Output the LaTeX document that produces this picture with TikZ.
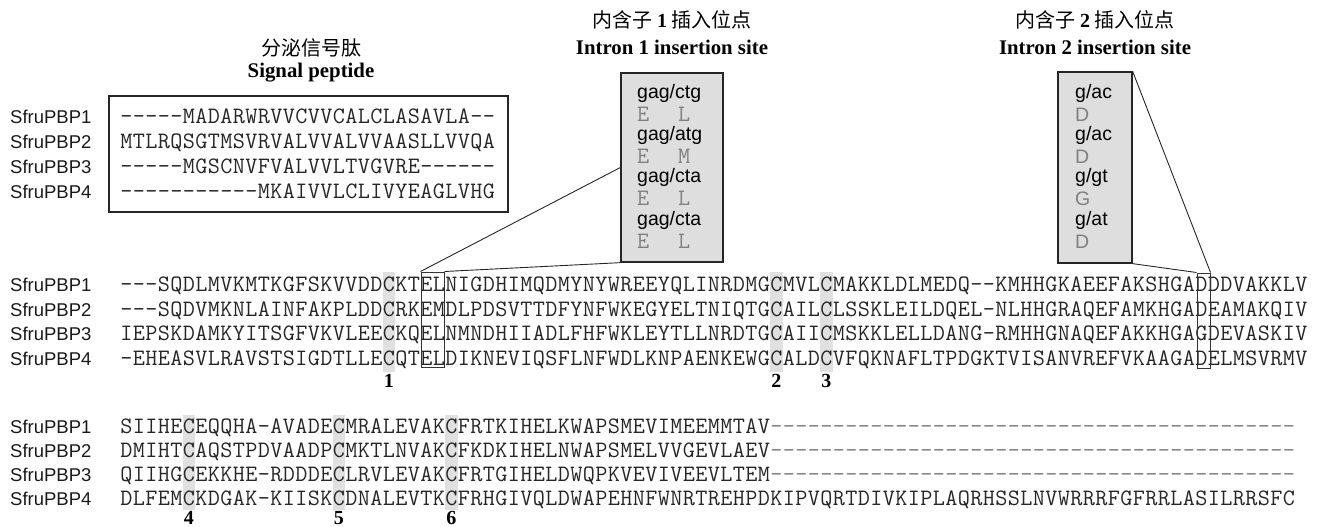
\documentclass[tikz,border=0pt]{standalone}
\usepackage{fontspec}
\setmainfont{Liberation Serif}
\newfontfamily\lsans{Liberation Sans}
\newfontfamily\cjk{Noto Sans CJK SC}
\newcommand\seqfont{\fontsize{23.5}{24}\selectfont\ttfamily}
\newcommand\labfont{\lsans\fontsize{18.5}{20}\selectfont}
\newcommand\itxtfont{\lsans\fontsize{19.5}{20}\selectfont}
\newcommand\ttlfont{\bfseries\fontsize{20.8}{22}\selectfont}
\newcommand\cttlfont{\cjk\fontsize{20}{22}\selectfont}
\newcommand\numfont{\bfseries\fontsize{20}{22}\selectfont}
\newcommand\seqgrid[1]{\seqaux#1\relax}
\def\seqaux#1{\ifx#1\relax\else\makebox[12.5pt]{#1}\expandafter\seqaux\fi}
\begin{document}
\begin{tikzpicture}[x=1pt,y=-1pt,
  seq/.style={inner sep=0pt, anchor=base west, font=\seqfont, text=black!85},
  dashrow/.style={seq, text=black!50},
  lab/.style={inner sep=0pt, anchor=base west, font=\labfont, text=black!90},
  ttl/.style={inner sep=0pt, font=\ttlfont},
  cttl/.style={inner sep=0pt, font=\cttlfont},
  num/.style={inner sep=0pt, font=\numfont},
  ibox/.style={draw=black!85, line width=1.3pt, fill=black!13, inner sep=0pt},
  sbox/.style={draw=black!80, line width=1pt, inner sep=0pt},
  sigbox/.style={draw=black!85, line width=1.2pt, inner sep=0pt},
  band/.style={fill=black!12, draw=none},
  itxt/.style={inner sep=0pt, anchor=base west, font=\itxtfont, text=black},
  igray/.style={inner sep=0pt, anchor=base west, font=\seqfont, text=black!50},
  isgray/.style={itxt, text=black!50},
  link/.style={draw=black!85, line width=0.9pt}]
\useasboundingbox (0,0) rectangle (1325,527);

% ---------- titles
\node[cttl] (tsigc) at (311,48) {分泌信号肽};
\node[ttl]  (tsige) at (311,73) {Signal peptide};
\node[cttl] (ti1c) at (672,20) {内含子 {\rmfamily\bfseries 1} 插入位点};
\node[ttl]  (ti1e) at (672,47) {Intron 1 insertion site};
\node[cttl] (ti2c) at (1095,20) {内含子 {\rmfamily\bfseries 2} 插入位点};
\node[ttl]  (ti2e) at (1095,47) {Intron 2 insertion site};

% ---------- highlight bands (cysteines)
\fill[band] (382.5,272) rectangle (395,372);
\fill[band] (770,272) rectangle (782.5,372);
\fill[band] (820,272) rectangle (832.5,372);
\fill[band] (182.5,415) rectangle (195,510);
\fill[band] (332.5,415) rectangle (345,510);
\fill[band] (445,415) rectangle (457.5,510);

% ---------- signal peptide box
\node[sigbox, minimum width=399pt, minimum height=116pt] (sig) at (308.5,154) {};
\node[lab] (l11) at (10,123.6) {SfruPBP1};
\node[lab] (l12) at (10,148.6) {SfruPBP2};
\node[lab] (l13) at (10,173.6) {SfruPBP3};
\node[lab] (l14) at (10,198.6) {SfruPBP4};
\node[seq] (s11) at (120,123.5) {\seqgrid{-----MADARWRVVCVVCALCLASAVLA--}};
\node[seq] (s12) at (120,148.5) {\seqgrid{MTLRQSGTMSVRVALVVALVVAASLLVVQA}};
\node[seq] (s13) at (120,173.5) {\seqgrid{-----MGSCNVFVALVVLTVGVRE------}};
\node[seq] (s14) at (120,198.5) {\seqgrid{-----------MKAIVVLCLIVYEAGLVHG}};

% ---------- intron 1 box
\node[ibox, minimum width=102pt, minimum height=189pt] (ib1) at (672,167.5) {};
\node[itxt] (a1) at (637,98) {gag/ctg};
\node[igray] (a1e) at (637,121.5) {E};
\node[igray] (a1l) at (678,121.5) {L};
\node[itxt] (a2) at (637,140) {gag/atg};
\node[igray] (a2e) at (637,163.5) {E};
\node[igray] (a2l) at (678,163.5) {M};
\node[itxt] (a3) at (637,182) {gag/cta};
\node[igray] (a3e) at (637,205.5) {E};
\node[igray] (a3l) at (678,205.5) {L};
\node[itxt] (a4) at (637,225) {gag/cta};
\node[igray] (a4e) at (637,248.5) {E};
\node[igray] (a4l) at (678,248.5) {L};

% ---------- intron 2 box
\node[ibox, minimum width=74pt, minimum height=191pt] (ib2) at (1095,167.5) {};
\node[itxt] (b1) at (1075,98) {g/ac};
\node[isgray] (b1d) at (1075,121.5) {D};
\node[itxt] (b2) at (1075,140) {g/ac};
\node[isgray] (b2d) at (1075,163.5) {D};
\node[itxt] (b3) at (1075,182) {g/gt};
\node[isgray] (b3d) at (1075,205.5) {G};
\node[itxt] (b4) at (1075,225) {g/at};
\node[isgray] (b4d) at (1075,248.5) {D};

% ---------- block 2
\node[lab] (l21) at (10,291.6) {SfruPBP1};
\node[lab] (l22) at (10,316.1) {SfruPBP2};
\node[lab] (l23) at (10,340.6) {SfruPBP3};
\node[lab] (l24) at (10,365.1) {SfruPBP4};
\node[seq] (s21) at (120,291.5) {\seqgrid{---SQDLMVKMTKGFSKVVDDCKTELNIGDHIMQDMYNYWREEYQLINRDMGCMVLCMAKKLDLMEDQ--KMHHGKAEEFAKSHGADDDVAKKLV}};
\node[seq] (s22) at (120,316) {\seqgrid{---SQDVMKNLAINFAKPLDDCRKEMDLPDSVTTDFYNFWKEGYELTNIQTGCAILCLSSKLEILDQEL-NLHHGRAQEFAMKHGADEAMAKQIV}};
\node[seq] (s23) at (120,340.5) {\seqgrid{IEPSKDAMKYITSGFVKVLEECKQELNMNDHIIADLFHFWKLEYTLLNRDTGCAIICMSKKLELLDANG-RMHHGNAQEFAKKHGAGDEVASKIV}};
\node[seq] (s24) at (120,365) {\seqgrid{-EHEASVLRAVSTSIGDTLLECQTELDIKNEVIQSFLNFWDLKNPAENKEWGCALDCVFQKNAFLTPDGKTVISANVREFVKAAGADELMSVRMV}};
\node[num] (n1) at (388.75,381) {1};
\node[num] (n2) at (776.25,381) {2};
\node[num] (n3) at (826.25,381) {3};

% small boxes in alignment
\node[sbox, minimum width=23pt, minimum height=95pt] (sb1) at (432.5,319.5) {};
\node[sbox, minimum width=13pt, minimum height=95pt] (sb2) at (1203.5,320.5) {};

% connectors
\draw[link] (sb1.north west) -- (ib1.west);
\draw[link] (sb1.north east) -- (ib1.south west);
\draw[link] (sb2.north east) -- (ib2.north east);
\draw[link] (sb2.north west) -- (ib2.south east);

% ---------- block 3
\node[lab] (l31) at (10,433.6) {SfruPBP1};
\node[lab] (l32) at (10,457.6) {SfruPBP2};
\node[lab] (l33) at (10,481.6) {SfruPBP3};
\node[lab] (l34) at (10,505.6) {SfruPBP4};
\node[seq] (s31) at (120,433.5) {\seqgrid{SIIHECEQQHA-AVADECMRALEVAKCFRTKIHELKWAPSMEVIMEEMMTAV}};
\node[seq] (s32) at (120,457.5) {\seqgrid{DMIHTCAQSTPDVAADPCMKTLNVAKCFKDKIHELNWAPSMELVVGEVLAEV}};
\node[seq] (s33) at (120,481.5) {\seqgrid{QIIHGCEKKHE-RDDDECLRVLEVAKCFRTGIHELDWQPKVEVIVEEVLTEM}};
\node[dashrow] (d31) at (770,433.5) {\seqgrid{------------------------------------------}};
\node[dashrow] (d32) at (770,457.5) {\seqgrid{------------------------------------------}};
\node[dashrow] (d33) at (770,481.5) {\seqgrid{------------------------------------------}};
\node[seq] (s34) at (120,505.5) {\seqgrid{DLFEMCKDGAK-KIISKCDNALEVTKCFRHGIVQLDWAPEHNFWNRTREHPDKIPVQRTDIVKIPLAQRHSSLNVWRRRFGFRRLASILRRSFC}};
\node[num] (n4) at (188.75,518) {4};
\node[num] (n5) at (338.75,518) {5};
\node[num] (n6) at (451.25,518) {6};
\end{tikzpicture}
\end{document}
